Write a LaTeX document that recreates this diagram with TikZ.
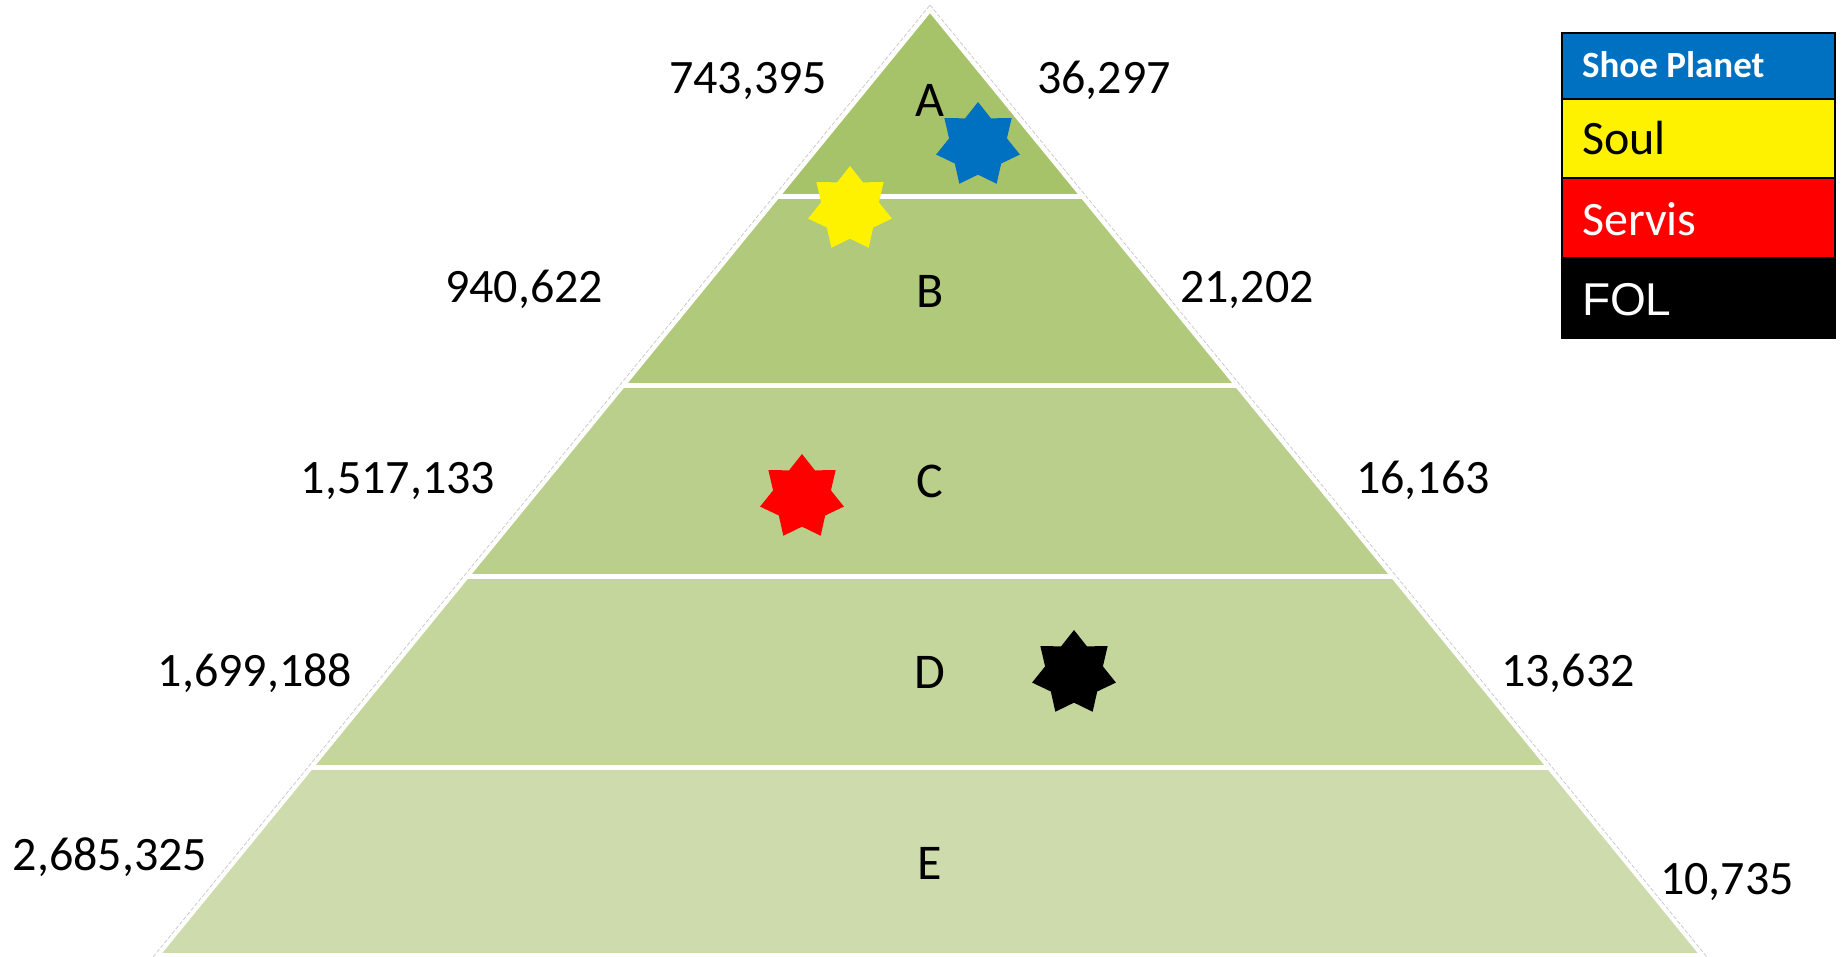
\documentclass[tikz,border=0pt]{standalone}
\usepackage{fontspec}
\setmainfont{Carlito}
\newfontfamily\arialfont{Liberation Sans}
\usepackage{tikz}
\usetikzlibrary{shapes.geometric}

\definecolor{tierA}{RGB}{166,195,106}
\definecolor{tierB}{RGB}{177,201,123}
\definecolor{tierC}{RGB}{186,207,140}
\definecolor{tierD}{RGB}{196,214,156}
\definecolor{tierE}{RGB}{206,220,173}
\definecolor{shoeblue}{RGB}{0,112,192}

\begin{document}
\begin{tikzpicture}[x=0.5pt,y=-0.5pt,
  every node/.style={font=\fontsize{24pt}{28pt}\selectfont},
  tierlabel/.style={anchor=base,font=\fontsize{25pt}{30pt}\selectfont},
  count/.style={anchor=base},
  sevenstar/.style={star,star points=7,star point ratio=1.45,minimum size=43pt,inner sep=0pt,draw=none},
  legtext/.style={anchor=base west,font=\fontsize{24pt}{29pt}\selectfont}]
  \useasboundingbox (0,0) rectangle (1841,957);
  % tiers of the pyramid
  \fill[tierA] (930,10) -- (1082.7,197) -- (777.3,197) -- cycle;
  \fill[tierB] (777.3,197) -- (1082.7,197) -- (1236.3,385) -- (623.7,385) -- cycle;
  \fill[tierC] (623.7,385) -- (1236.3,385) -- (1392.3,576) -- (467.7,576) -- cycle;
  \fill[tierD] (467.7,576) -- (1392.3,576) -- (1548.3,767) -- (311.7,767) -- cycle;
  \fill[tierE] (311.7,767) -- (1548.3,767) -- (1702,955) -- (158,955) -- cycle;
  \draw[white,line width=2.5pt] (777.3,197) -- (1082.7,197);
  \draw[white,line width=2.5pt] (623.7,385) -- (1236.3,385);
  \draw[white,line width=2.5pt] (467.7,576) -- (1392.3,576);
  \draw[white,line width=2.5pt] (311.7,767) -- (1548.3,767);
  \draw[white,line width=2pt,line join=round] (930,10) -- (1702,955) -- (158,955) -- cycle;
  \draw[gray!45,line width=0.35pt,dash pattern=on 2pt off 1pt,line join=round] (930,5) -- (1707,957) (153,957) -- (930,5);
  % tier letters
  \node[tierlabel] (lA) at (930,117) {A};
  \node[tierlabel] (lB) at (930,307) {B};
  \node[tierlabel] (lC) at (930,497) {C};
  \node[tierlabel] (lD) at (930,688) {D};
  \node[tierlabel] (lE) at (930,879) {E};
  % counts, left and right
  \node[count] (leftA) at (748,94) {743,395};
  \node[count] (rightA) at (1104,94) {36,297};
  \node[count] (leftB) at (524,302) {940,622};
  \node[count] (rightB) at (1247,302) {21,202};
  \node[count] (leftC) at (398,493) {1,517,133};
  \node[count] (rightC) at (1423,493) {16,163};
  \node[count] (leftD) at (255,686) {1,699,188};
  \node[count] (rightD) at (1568,686) {13,632};
  \node[count] (leftE) at (110,870) {2,685,325};
  \node[count] (rightE) at (1727,894) {10,735};
  % brand markers
  \node[sevenstar,fill=shoeblue] (starshoe) at (978,145) {};
  \node[sevenstar,fill=yellow] (starsoul) at (850,209) {};
  \node[sevenstar,fill=red] (starservis) at (802,497) {};
  \node[sevenstar,fill=black] (starfol) at (1074,673) {};
  % legend
  \fill[shoeblue] (1562,33) rectangle (1835,99);
  \fill[yellow] (1562,99) rectangle (1835,178);
  \fill[red] (1562,178) rectangle (1835,257);
  \fill[black] (1562,257) rectangle (1835,338);
  \draw[line width=0.6pt] (1562,99) -- (1835,99) (1562,178) -- (1835,178);
  \draw[line width=0.8pt] (1562,33) rectangle (1835,338);
  \node[anchor=base west,font=\fontsize{18.5pt}{22pt}\selectfont\bfseries,text=white] (legshoe) at (1575,78) {Shoe Planet};
  \node[legtext] (legsoul) at (1575,155) {Soul};
  \node[legtext,text=white] (legservis) at (1575,235) {Servis};
  \node[legtext,text=white,font=\arialfont\fontsize{23pt}{28pt}\selectfont] (legfol) at (1575,315) {FOL};
\end{tikzpicture}
\end{document}
